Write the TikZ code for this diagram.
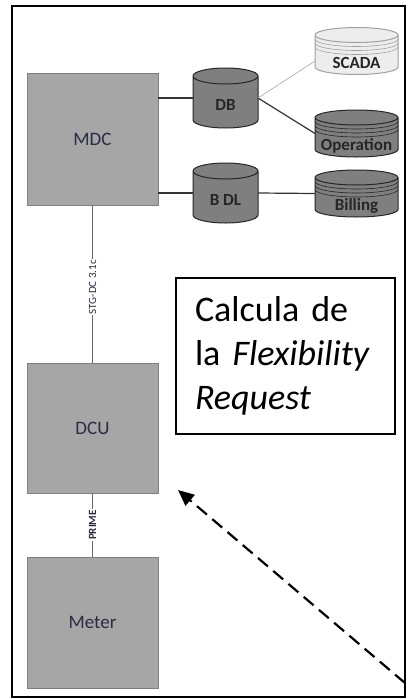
\documentclass[tikz,border=0pt]{standalone}
\usepackage{fontspec}
\setmainfont{Carlito}
\usetikzlibrary{positioning,arrows.meta,calc}
\definecolor{boxgray}{HTML}{A6A6A6}
\definecolor{boxedge}{HTML}{7F7F7F}
\definecolor{dbgray}{HTML}{7F7F7F}
\definecolor{scadafill}{HTML}{EDEDED}
\definecolor{scadaedge}{HTML}{A0A0A0}
\definecolor{lbltext}{HTML}{2B2B45}
\newcommand*{\unitfont}{\fontsize{19}{19}\selectfont}
\newcommand*{\dbfont}{\fontsize{17}{17}\selectfont\bfseries}
\newcommand*{\linkfont}{\fontsize{11}{11}\selectfont}
\newcommand*{\reqfont}{\fontsize{36}{44}\selectfont}

\begin{document}
\begin{tikzpicture}[x=1pt,y=-1pt,
  blockbox/.style={draw=boxedge,fill=boxgray,line width=1pt,minimum width=131pt,
    inner sep=0pt,outer sep=0pt,font=\unitfont,text=lbltext},
  dbspot/.style={minimum width=65pt,minimum height=60pt,inner sep=0pt,outer sep=0pt},
  stackspot/.style={dbspot,minimum width=83pt,minimum height=47pt},
  dblabel/.style={font=\dbfont,text=black!85,inner sep=0pt},
  wire/.style={line width=1.2pt,draw=black!80},
]
\useasboundingbox (0,0) rectangle (411,699);
% Outer frame
\draw[line width=1.5pt] (12,6) rectangle (405,697);
% Main units on the left
\node[blockbox,minimum height=132pt] (mdc) at (92.5,139) {MDC};
\node[blockbox,minimum height=130pt] (dcu) at (92.5,428) {DCU};
\node[blockbox,minimum height=131pt] (meter) at (92.5,622.5) {Meter};
% Places of the data bases
\node[dbspot] (db) at (225.5,98) {};
\node[dbspot] (bdl) at (225.5,193) {};
\node[stackspot] (scada) at (356.5,51) {};
\node[stackspot] (oper) at (356.5,133.5) {};
\node[stackspot] (bill) at (356.5,193.5) {};
% Draw the cans over those places
\foreach \nm/\r/\f/\d in {db/8/dbgray/black!85,bdl/8/dbgray/black!85,
    scada/7.5/scadafill/scadaedge,oper/7.5/dbgray/black!85,bill/7.5/dbgray/black!85}
  \draw[fill=\f,draw=\d,line width=1pt]
    let \p1=(\nm.north west), \p2=(\nm.south east), \n1={(\x2-\x1)/2} in
    (\x1,\y1-\r pt) -- (\x1,\y2+\r pt)
    arc[start angle=180,end angle=360,x radius=\n1,y radius=\r pt]
    -- (\x2,\y1-\r pt)
    arc[start angle=0,end angle=180,x radius=\n1,y radius=\r pt] -- cycle
    (\x1,\y1-\r pt) arc[start angle=180,end angle=360,x radius=\n1,y radius=\r pt];
% Disk lines on the stacks
\foreach \nm/\c in {scada/scadaedge,oper/black!85,bill/black!85}
  \foreach \k in {4,8,12}
    \draw[line width=0.6pt,\c]
      let \p1=(\nm.north west), \p2=(\nm.south east), \n1={(\x2-\x1)/2} in
      (\x1,\y1-7.5pt-\k pt) arc[start angle=180,end angle=360,x radius=\n1,y radius=7.5pt];
% Labels of the data bases
\node[dblabel] (dbtxt) at ($(db.center)+(0,7)$) {DB};
\node[dblabel] (bdltxt) at ($(bdl.center)+(0,7)$) {B DL};
\node[dblabel] (scadatxt) at ($(scada.center)+(0,12)$) {SCADA};
\node[dblabel] (opertxt) at ($(oper.center)+(0,12)$) {Operation};
\node[dblabel] (billtxt) at ($(bill.center)+(0,12)$) {Billing};
% Connections
\draw[wire] (db.west -| mdc.east) -- (db.west);
\draw[wire] (bdl.west -| mdc.east) -- (bdl.west);
\draw[wire] (bdl.east) -- (bill.west);
\draw[wire] (db.east) -- (oper.west);
\draw[line width=0.6pt,black!35] (db.east) -- ($(scada.west)+(0,10)$);
\draw[wire,black!60] (mdc.south) -- node[pos=0.52,rotate=90,fill=white,inner sep=1pt,
  font=\linkfont,text=lbltext] (stglbl) {STG-DC 3.1c} (dcu.north);
\draw[wire,black!60] (dcu.south) -- node[midway,rotate=90,fill=white,inner sep=1pt,
  font=\linkfont\bfseries,text=lbltext] (primelbl) {PRIME} (meter.north);
% Text box
\node[draw,line width=1.5pt,minimum width=219pt,minimum height=156pt,
  text width=181pt,inner xsep=19pt,align=left,font=\reqfont] (flex) at (285.5,356)
  {Calcula de\\la \textit{Flexibility}\\\textit{Request}};
% Dashed arrow to the DCU
\coordinate (reqsrc) at (405,683);
\coordinate (reqtip) at ($(dcu.south east)+(20,-3)$);
\draw[line width=2.2pt,dash pattern=on 13pt off 7pt,-{Triangle[length=16pt,width=14pt]}]
  (reqsrc) -- (reqtip);
\end{tikzpicture}
\end{document}
